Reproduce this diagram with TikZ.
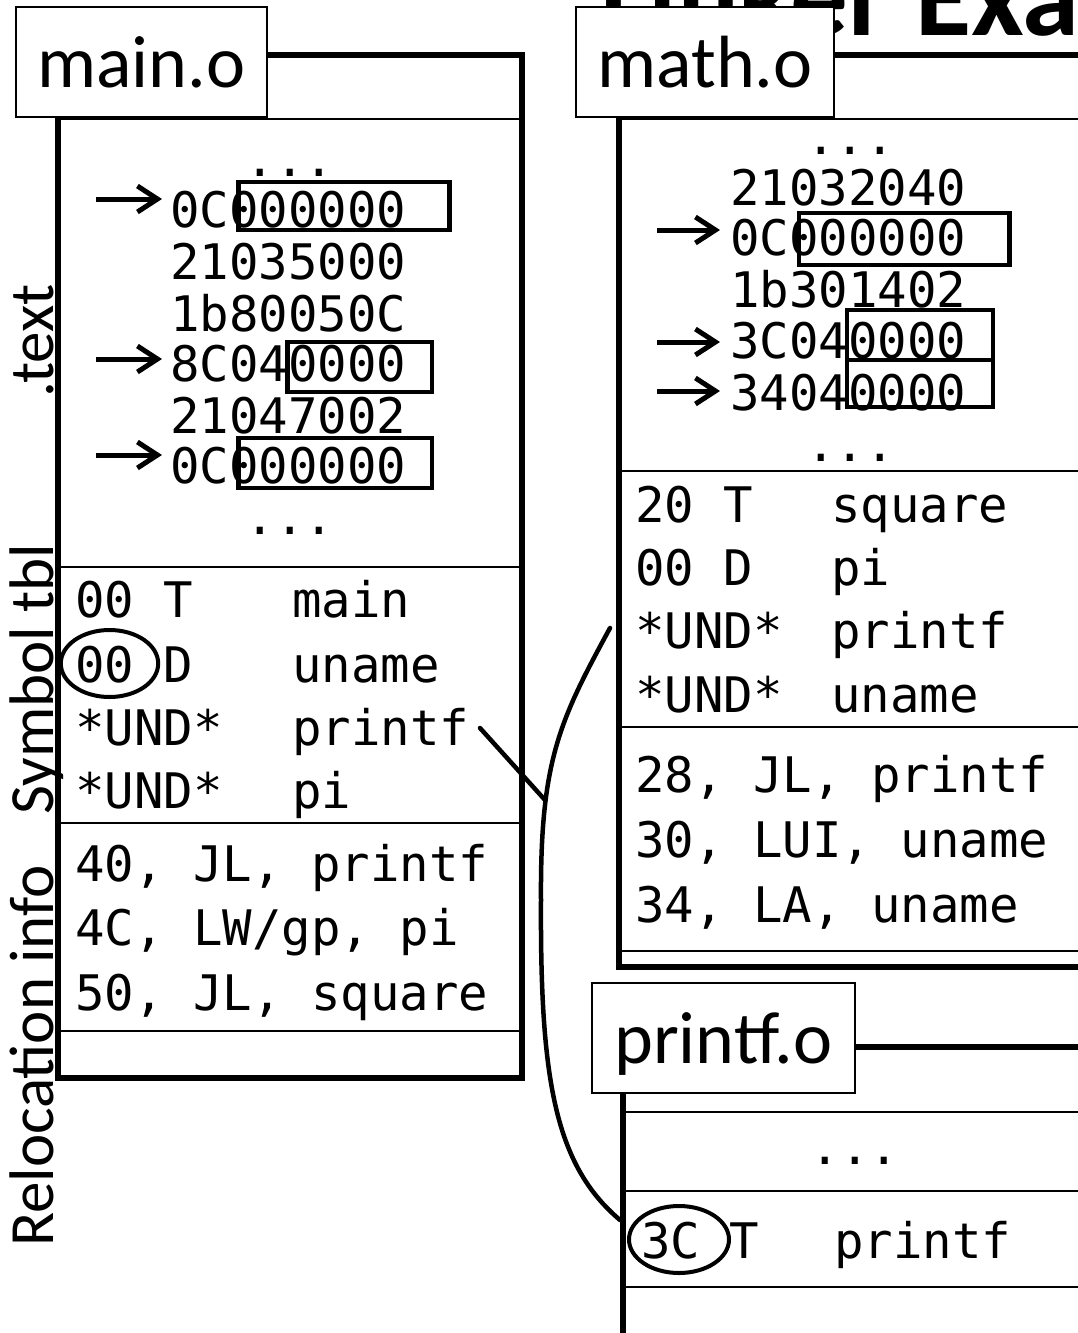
\documentclass[tikz,border=0pt]{standalone}
\usepackage{fontspec}
\setmainfont{Carlito}
\newfontfamily\monofont{DejaVu Sans Mono}
\usetikzlibrary{arrows.meta}
\begin{document}
\begin{tikzpicture}[x=1pt,y=-1pt,
  frame/.style={line width=5.5pt, line join=miter},
  sep/.style={line width=2pt},
  objlabel/.style={draw, line width=2pt, fill=white, inner sep=0pt,
    font=\fontsize{74}{74}\selectfont, text height=60pt, text depth=10pt},
  vlabel/.style={rotate=90, anchor=base, inner sep=0pt, font=\fontsize{63}{63}\selectfont},
  code/.style={anchor=base west, inner sep=0pt, font=\monofont\fontsize{49}{49}\selectfont},
  dots/.style={anchor=base, inner sep=0pt, font=\monofont\fontsize{49}{49}\selectfont},
  hbox/.style={line width=4.5pt},
  ring/.style={line width=4pt},
  ptr/.style={line width=5pt, -{Straight Barb[length=20pt, width=26pt]}},
  conn/.style={line width=4.5pt, line cap=round},
  titlefont/.style={anchor=base west, inner sep=0pt, font=\bfseries\fontsize{115}{115}\selectfont}]
\useasboundingbox (0,0) rectangle (1078,1333);
\clip (0,0) rectangle (1078,1333);

% title (cut off at the top)
\node[titlefont] (title) at (600,35) {Linker Example};

% ---------------- main.o ----------------
\draw[frame] (260,55) -- (522,55) -- (522,1078) -- (58,1078) -- (58,110);
\draw[sep] (58,119) -- (522,119);
\draw[sep] (58,567) -- (522,567);
\draw[sep] (58,823) -- (522,823);
\draw[sep] (58,1031) -- (522,1031);
\node[objlabel, minimum width=251.5pt, minimum height=110pt] (mainlbl) at (141.25,62) {main.o};

\node[vlabel] (ltext) at (53,341) {.text};
\node[vlabel] (lsym) at (53,679) {Symbol tbl};
\node[vlabel] (lrel) at (53,1056) {Relocation info};

\node[dots] (mdots1) at (290,176) {...};
\node[code] (mt1) at (170,227) {0C000000};
\node[code] (mt2) at (170,279) {21035000};
\node[code] (mt3) at (170,331) {1b80050C};
\node[code] (mt4) at (170,381) {8C040000};
\node[code] (mt5) at (170,433) {21047002};
\node[code] (mt6) at (170,483) {0C000000};
\node[dots] (mdots2) at (290,534) {...};

\draw[hbox] (238.6,182) rectangle (449.4,230);
\draw[hbox] (287.5,342) rectangle (432,392);
\draw[hbox] (238.6,438) rectangle (432,488);

\coordinate (ma1s) at (96,199);  \coordinate (ma1e) at (162,199);
\coordinate (ma2s) at (96,359);  \coordinate (ma2e) at (162,359);
\coordinate (ma3s) at (96,455);  \coordinate (ma3e) at (162,455);
\draw[ptr] (ma1s) -- (ma1e);
\draw[ptr] (ma2s) -- (ma2e);
\draw[ptr] (ma3s) -- (ma3e);

\node[code] (ms1a) at (75,617) {00 T};
\node[code] (ms1b) at (292,617) {main};
\node[code] (ms2a) at (75,682) {00 D};
\node[code] (ms2b) at (292,682) {uname};
\node[code] (ms3a) at (75,745) {*UND*};
\node[code] (ms3b) at (292,745) {printf};
\node[code] (ms4a) at (75,808) {*UND*};
\node[code] (ms4b) at (292,808) {pi};
\draw[ring] (109.5,663.5) ellipse [x radius=48.7, y radius=33.5];

\node[code] (mr1) at (75,881) {40, JL, printf};
\node[code] (mr2) at (75,945) {4C, LW/gp, pi};
\node[code] (mr3) at (75,1010) {50, JL, square};

% ---------------- math.o ----------------
\draw[frame] (830,55) -- (1090,55);
\draw[frame] (619,110) -- (619,967) -- (1090,967);
\draw[sep] (619,119) -- (1090,119);
\draw[sep] (619,471) -- (1090,471);
\draw[sep] (619,727) -- (1090,727);
\draw[sep] (619,951) -- (1090,951);
\node[objlabel, minimum width=258pt, minimum height=110pt] (mathlbl) at (705,62) {math.o};

\node[dots] (tdots1) at (850.6,154) {...};
\node[code] (tt1) at (730,205) {21032040};
\node[code] (tt2) at (730,255) {0C000000};
\node[code] (tt3) at (730,307) {1b301402};
\node[code] (tt4) at (730,358) {3C040000};
\node[code] (tt5) at (730,410) {34040000};
\node[dots] (tdots2) at (850.6,461) {...};

\draw[hbox] (799,213) rectangle (1009.5,265);
\draw[hbox] (847,310) rectangle (993,360);
\draw[hbox] (847,360) rectangle (993,407);

\coordinate (ta1s) at (657,230);  \coordinate (ta1e) at (720,230);
\coordinate (ta2s) at (657,342);  \coordinate (ta2e) at (720,342);
\coordinate (ta3s) at (657,391);  \coordinate (ta3e) at (720,391);
\draw[ptr] (ta1s) -- (ta1e);
\draw[ptr] (ta2s) -- (ta2e);
\draw[ptr] (ta3s) -- (ta3e);

\node[code] (ts1a) at (635,522) {20 T};
\node[code] (ts1b) at (831,522) {square};
\node[code] (ts2a) at (635,585) {00 D};
\node[code] (ts2b) at (831,585) {pi};
\node[code] (ts3a) at (635,648) {*UND*};
\node[code] (ts3b) at (831,648) {printf};
\node[code] (ts4a) at (635,712.5) {*UND*};
\node[code] (ts4b) at (831,712.5) {uname};

\node[code] (tr1) at (635,792.5) {28, JL, printf};
\node[code] (tr2) at (635,857.5) {30, LUI, uname};
\node[code] (tr3) at (635,922.5) {34, LA, uname};

% ---------------- printf.o ----------------
\draw[frame] (850,1047) -- (1090,1047);
\draw[frame] (623,1088) -- (623,1345);
\draw[sep] (623,1112) -- (1090,1112);
\draw[sep] (623,1191) -- (1090,1191);
\draw[sep] (623,1287) -- (1090,1287);
\node[objlabel, minimum width=263.5pt, minimum height=110pt] (printflbl) at (723.25,1038) {printf.o};

\node[dots] (pdots) at (855,1164) {...};
\node[code] (ps1a) at (641,1258) {3C T};
\node[code] (ps1b) at (834,1258) {printf};
\draw[ring] (679,1239.5) ellipse [x radius=50, y radius=33.5];

% ---------------- connectors ----------------
\coordinate (c1s) at (480,728);
\coordinate (cj) at (545,800);
\coordinate (c2s) at (610,628);
\coordinate (c2m) at (541,900);
\coordinate (c2e) at (620,1220);
\draw[conn] (c1s) -- (cj);
\draw[conn] (c2s) .. controls (560,720) and (540,760) .. (c2m)
                  .. controls (540,1080) and (555,1165) .. (c2e);
\end{tikzpicture}
\end{document}
